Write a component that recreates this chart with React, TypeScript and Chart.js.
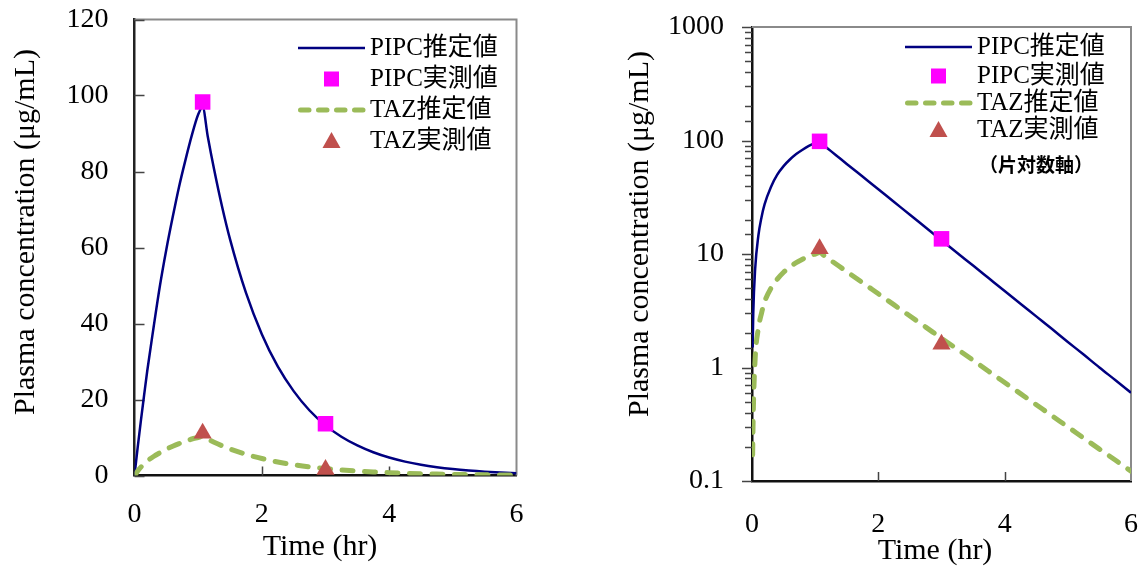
import React, { useEffect, useRef } from 'react';
import { Chart, registerables } from 'chart.js';

Chart.register(...registerables);

// ---- data ----
const TIME = [0, 0.01, 0.02, 0.05, 0.1, 0.15, 0.2, 0.3, 0.4, 0.5, 0.6, 0.7, 0.8, 0.9, 1.0, 1.07, 1.15, 1.25, 1.375, 1.5, 1.75, 2.0, 2.25, 2.5, 2.75, 3.0, 3.25, 3.5, 3.75, 4.0, 4.25, 4.5, 4.75, 5.0, 5.25, 5.5, 5.75, 6.0];
const PIPC_EST = [0, 1.5, 3.0, 7.4, 14.4, 21, 27.5, 39, 50, 59.5, 68, 76, 83, 89.5, 95, 97, 89.3, 80.6, 70.8, 62.2, 48.1, 37.2, 28.7, 22.2, 17.1, 13.2, 10.2, 7.91, 6.11, 4.72, 3.65, 2.82, 2.18, 1.68, 1.3, 1.0, 0.776, 0.6];
const TAZ_EST = [0, 0.17, 0.4, 1.2, 2.2, 3.0, 3.8, 5.0, 6.0, 6.9, 7.7, 8.4, 9.0, 9.6, 10.0, 10.3, 9.58, 8.76, 7.83, 6.99, 5.59, 4.46, 3.56, 2.84, 2.27, 1.81, 1.45, 1.16, 0.923, 0.737, 0.589, 0.47, 0.375, 0.3, 0.239, 0.191, 0.153, 0.122];
const OBS_TIME = [1.07, 3.0];
const PIPC_OBS = [98.3, 13.6];
const TAZ_OBS = [11.1, 1.6];

const X_MIN = 0;
const X_MAX = 6;
const X_STEP = 2;
const LIN_Y_MAX = 120;
const LIN_Y_STEP = 20;
const LOG_Y_MIN = 0.1;
const LOG_Y_MAX = 1000;

const LEGEND_LABELS = ['PIPC推定値', 'PIPC実測値', 'TAZ推定値', 'TAZ実測値'];
const LOG_NOTE = '（片対数軸）';
const X_TITLE = 'Time (hr)';
const Y_TITLE = 'Plasma concentration (μg/mL)';

// ---- styles ----
const NAVY = '#000080';
const MAGENTA = '#FF00FF';
const GREEN = '#9BBB59';
const RED = '#C0504D';
const SERIF = "'Liberation Serif', 'Times New Roman', 'Noto Sans CJK JP', serif";

type Layout = {
  padLeft: number; padRight: number; padTop: number;
  yWidth: number; xHeight: number;
  yLabelPad: number; xLabelPad: number;
  yTitleX: number; yTitleY: number; xTitleX: number; xTitleY: number;
  legendTextX: number; legendRows: number[]; note?: { x: number; y: number };
  yTicksInside: boolean;
};

const LEFT_LAYOUT: Layout = {
  padLeft: 0, padRight: 56.5, padTop: 19.5, yWidth: 134.5, xHeight: 91.5,
  yLabelPad: 26, xLabelPad: 22,
  yTitleX: 26, yTitleY: 232, xTitleX: 320, xTitleY: 547,
  legendTextX: 370, legendRows: [48, 79, 110, 141],
  yTicksInside: true,
};

const RIGHT_LAYOUT: Layout = {
  padLeft: 0, padRight: 15, padTop: 27, yWidth: 179, xHeight: 86,
  yLabelPad: 28, xLabelPad: 27,
  yTitleX: 67, yTitleY: 234, xTitleX: 362, xTitleY: 551,
  legendTextX: 404, legendRows: [47, 76, 103, 130], note: { x: 463, y: 165 },
  yTicksInside: false,
};

function isDecade(v: number) {
  const l = Math.log10(v);
  return Math.abs(l - Math.round(l)) < 1e-6;
}

function makePlugin(L: Layout, log: boolean) {
  return {
    id: 'decor',
    beforeDatasetsDraw(chart: any) {
      const { ctx, chartArea: ca, scales } = chart;
      const x = scales.x;
      const y = scales.y;
      ctx.save();
      // gray frame top/right
      ctx.strokeStyle = '#8a8a8a';
      ctx.lineWidth = 2;
      ctx.beginPath();
      ctx.moveTo(ca.left, ca.top);
      ctx.lineTo(ca.right, ca.top);
      ctx.lineTo(ca.right, ca.bottom);
      ctx.stroke();
      // x ticks pointing up
      ctx.strokeStyle = '#444';
      ctx.lineWidth = 1.5;
      ctx.beginPath();
      x.ticks.forEach((t: any) => {
        if (t.value <= X_MIN || t.value >= X_MAX) return;
        const px = Math.round(x.getPixelForValue(t.value)) + 0.5;
        ctx.moveTo(px, ca.bottom);
        ctx.lineTo(px, ca.bottom - 9);
      });
      ctx.stroke();
      // y ticks
      ctx.beginPath();
      y.ticks.forEach((t: any) => {
        const py = Math.round(y.getPixelForValue(t.value)) + 0.5;
        const major = log ? isDecade(t.value) : true;
        const len = major ? 10 : 7;
        if (L.yTicksInside) {
          ctx.moveTo(ca.left, py);
          ctx.lineTo(ca.left + len, py);
        } else {
          ctx.moveTo(ca.left, py);
          ctx.lineTo(ca.left - len, py);
        }
      });
      ctx.stroke();
      ctx.restore();
    },
    afterDraw(chart: any) {
      const { ctx } = chart;
      ctx.save();
      ctx.fillStyle = '#000';
      // axis titles
      ctx.font = `30px ${SERIF}`;
      ctx.textAlign = 'center';
      ctx.textBaseline = 'middle';
      ctx.fillText(X_TITLE, L.xTitleX, L.xTitleY);
      ctx.save();
      ctx.translate(L.yTitleX, L.yTitleY);
      ctx.rotate(-Math.PI / 2);
      ctx.fillText(Y_TITLE, 0, 0);
      ctx.restore();
      // legend
      const tx = L.legendTextX;
      const sx0 = tx - 72;
      const sx1 = tx - 5;
      const scx = (sx0 + sx1) / 2;
      L.legendRows.forEach((ry, i) => {
        if (i === 0) {
          ctx.strokeStyle = NAVY;
          ctx.lineWidth = 2.5;
          ctx.setLineDash([]);
          ctx.beginPath();
          ctx.moveTo(sx0, ry);
          ctx.lineTo(sx1, ry);
          ctx.stroke();
        } else if (i === 1) {
          ctx.fillStyle = MAGENTA;
          ctx.fillRect(scx - 7.5, ry - 7.5, 15, 15);
        } else if (i === 2) {
          ctx.strokeStyle = GREEN;
          ctx.lineWidth = 5;
          ctx.lineCap = 'round';
          ctx.setLineDash([8.5, 9.5]);
          ctx.beginPath();
          ctx.moveTo(sx0 + 2.5, ry);
          ctx.lineTo(sx1 - 2, ry);
          ctx.stroke();
          ctx.setLineDash([]);
          ctx.lineCap = 'butt';
        } else {
          ctx.fillStyle = RED;
          ctx.beginPath();
          ctx.moveTo(scx, ry - 9);
          ctx.lineTo(scx + 9, ry + 7);
          ctx.lineTo(scx - 9, ry + 7);
          ctx.closePath();
          ctx.fill();
        }
        ctx.fillStyle = '#000';
        ctx.font = `25px ${SERIF}`;
        ctx.textAlign = 'left';
        ctx.textBaseline = 'middle';
        ctx.fillText(LEGEND_LABELS[i], tx, ry);
      });
      if (L.note) {
        ctx.font = `bold 19px 'Noto Sans CJK JP', sans-serif`;
        ctx.textAlign = 'center';
        ctx.fillText(LOG_NOTE, L.note.x, L.note.y);
      }
      ctx.restore();
    },
  };
}

function makeConfig(log: boolean): any {
  const L = log ? RIGHT_LAYOUT : LEFT_LAYOUT;
  const series = (ys: number[]) =>
    TIME.map((t, i) => ({ x: t, y: ys[i] })).filter((p) => !log || p.y > 0);
  const obs = (ys: number[]) => OBS_TIME.map((t, i) => ({ x: t, y: ys[i] }));
  const tickFont = { family: SERIF, size: 28 };
  const fitX = (s: any) => {
    s.height = L.xHeight;
    s.paddingLeft = 0;
    s.paddingRight = 0;
    s.paddingTop = 0;
    s.paddingBottom = 0;
  };
  const fitY = (s: any) => {
    s.width = L.yWidth;
    s.paddingLeft = 0;
    s.paddingRight = 0;
    s.paddingTop = 0;
    s.paddingBottom = 0;
  };
  return {
    type: 'line',
    data: {
      datasets: [
        {
          label: LEGEND_LABELS[1], data: obs(PIPC_OBS), showLine: false,
          pointStyle: 'rect', pointRadius: 11, pointHoverRadius: 11,
          pointBackgroundColor: MAGENTA, pointBorderColor: MAGENTA, pointBorderWidth: 0, order: 1,
        },
        {
          label: LEGEND_LABELS[3], data: obs(TAZ_OBS), showLine: false,
          pointStyle: 'triangle', pointRadius: 10.5, pointHoverRadius: 10.5,
          pointBackgroundColor: RED, pointBorderColor: RED, pointBorderWidth: 0, order: 1,
        },
        {
          label: LEGEND_LABELS[2], data: series(TAZ_EST), borderColor: GREEN, borderWidth: 5,
          borderDash: [11, 11.5], borderCapStyle: 'round', pointRadius: 0, pointHoverRadius: 0,
          cubicInterpolationMode: 'monotone', fill: false, order: 2,
        },
        {
          label: LEGEND_LABELS[0], data: series(PIPC_EST), borderColor: NAVY, borderWidth: 2.5,
          pointRadius: 0, pointHoverRadius: 0, cubicInterpolationMode: 'monotone', fill: false, order: 3,
        },
      ],
    },
    options: {
      animation: false,
      responsive: false,
      devicePixelRatio: 1,
      events: [],
      layout: { padding: { left: L.padLeft, right: L.padRight, top: L.padTop, bottom: 0 } },
      plugins: { legend: { display: false }, tooltip: { enabled: false }, title: { display: false } },
      scales: {
        x: {
          type: 'linear', min: X_MIN, max: X_MAX,
          grid: { display: false, drawTicks: false },
          border: { display: true, color: '#111', width: 2.5 },
          ticks: { stepSize: X_STEP, font: tickFont, color: '#000', padding: L.xLabelPad, maxRotation: 0 },
          afterFit: fitX,
        },
        y: log
          ? {
              type: 'logarithmic', min: LOG_Y_MIN, max: LOG_Y_MAX,
              grid: { display: false, drawTicks: false },
              border: { display: true, color: '#111', width: 2.5 },
              ticks: {
                autoSkip: false, font: tickFont, color: '#000', padding: L.yLabelPad,
                callback: (v: number) => (isDecade(v) ? (v >= 1 ? String(Math.round(v)) : String(v)) : ''),
              },
              afterFit: fitY,
            }
          : {
              type: 'linear', min: 0, max: LIN_Y_MAX,
              grid: { display: false, drawTicks: false },
              border: { display: true, color: '#222', width: 2.5 },
              ticks: { stepSize: LIN_Y_STEP, font: tickFont, color: '#000', padding: L.yLabelPad },
              afterFit: fitY,
            },
      },
    },
    plugins: [makePlugin(L, log)],
  };
}

export default function App() {
  const leftRef = useRef<HTMLCanvasElement>(null);
  const rightRef = useRef<HTMLCanvasElement>(null);
  useEffect(() => {
    const c1 = new Chart(leftRef.current as HTMLCanvasElement, makeConfig(false));
    const c2 = new Chart(rightRef.current as HTMLCanvasElement, makeConfig(true));
    return () => {
      c1.destroy();
      c2.destroy();
    };
  }, []);
  return (
    <div style={{ position: 'absolute', left: 0, top: 0, width: 1146, height: 567, background: '#fff', overflow: 'hidden' }}>
      <canvas ref={leftRef} width={573} height={567}
        style={{ position: 'absolute', left: 0, top: 0, width: 573, height: 567 }} />
      <canvas ref={rightRef} width={573} height={567}
        style={{ position: 'absolute', left: 573, top: 0, width: 573, height: 567 }} />
    </div>
  );
}
